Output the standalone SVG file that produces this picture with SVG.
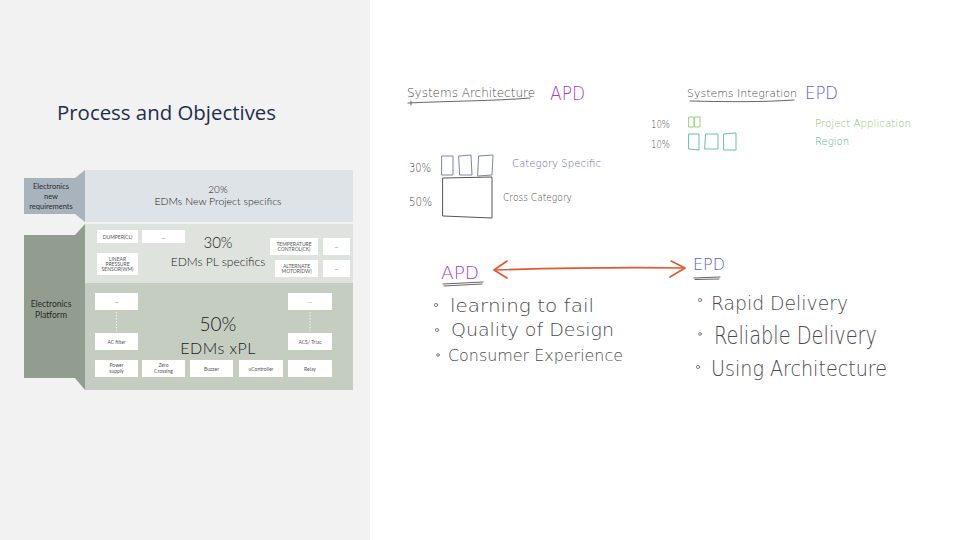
<svg xmlns="http://www.w3.org/2000/svg" width="960" height="540" viewBox="0 0 960 540">
  <style>
    .title { font-family: "Open Sans", "Liberation Sans", sans-serif; font-size: 20px; fill: #1f2d4d; }
    .gl { font-family: Lato, "Liberation Sans", sans-serif; font-weight: 300; fill: #1a1a1a; text-anchor: middle; }
    .tab { font-family: Lato, "Liberation Sans", sans-serif; font-weight: 400; fill: #2b2b2b; text-anchor: middle; }
    .box { fill: #ffffff; }
    .bt { font-family: Lato, "Liberation Sans", sans-serif; font-size: 5px; fill: #555; text-anchor: middle; }
    .hand { font-family: "DejaVu Sans", "Liberation Sans", sans-serif; font-weight: 200; fill: #4a4a4a; }
    .hand.apdc { fill: #a13fc8; }
    .hand.epdc { fill: #5b5fd0; }
    .hand.catc { fill: #6268b0; }
    .hand.projc { fill: #8cc56a; }
    .hand.regc { fill: #4fb596; }
    .ink { fill: none; stroke-linecap: round; stroke-linejoin: round; }
  </style>

  <!-- panels -->
  <rect x="0" y="0" width="960" height="540" fill="#ffffff"/>
  <rect x="0" y="0" width="370" height="540" fill="#f2f2f2"/>

  <text class="title" x="57" y="120" textLength="219" lengthAdjust="spacingAndGlyphs">Process and Objectives</text>

  <!-- layered platform stack -->
  <g id="band-new-project">
    <rect x="85" y="170" width="268" height="52" fill="#dee3e8"/>
    <text class="gl" x="218" y="193" font-size="10">20%</text>
    <text class="gl" x="218" y="205" font-size="10.5">EDMs New Project specifics</text>
  </g>
  <g id="tab-new-requirements">
    <polygon points="24,178 75,178 85,170 85,222 75,214 24,214" fill="#a8b3be"/>
    <text class="tab" x="51" y="189" font-size="7.5">Electronics</text>
    <text class="tab" x="51" y="199" font-size="7.5">new</text>
    <text class="tab" x="51" y="209" font-size="7.5">requirements</text>
  </g>
  <g id="tab-platform">
    <polygon points="24,235 75,235 85,224 85,390 75,378 24,378" fill="#919d8e"/>
    <text class="tab" x="51" y="307" font-size="8.5">Electronics</text>
    <text class="tab" x="51" y="318" font-size="8.5">Platform</text>
  </g>
  <g id="band-pl">
    <rect x="85" y="224" width="268" height="59" fill="#dfe3dd"/>
    <text class="gl" x="218" y="248" font-size="15">30%</text>
    <text class="gl" x="218" y="266" font-size="12">EDMs PL specifics</text>
  </g>
  <g id="band-xpl">
    <rect x="85" y="283" width="268" height="107" fill="#c5cdc1"/>
    <text class="gl" x="218" y="331" font-size="19">50%</text>
    <text class="gl" x="218" y="354" font-size="16" letter-spacing="0.5">EDMs xPL</text>
  </g>

  <!-- PL specific blocks -->
  <g id="box-dumper"><rect class="box" x="97" y="230" width="41" height="13"/><text class="bt" x="117.5" y="238.5">DUMPER(CL)</text></g>
  <g id="box-pl-more"><rect class="box" x="142" y="230" width="43" height="13"/><text class="bt" x="163.5" y="238.5">...</text></g>
  <g id="box-pressure"><rect class="box" x="97" y="253" width="41" height="22"/><text class="bt" x="117.5" y="261">LINEAR</text><text class="bt" x="117.5" y="266">PRESSURE</text><text class="bt" x="117.5" y="271">SENSOR(WM)</text></g>
  <g id="box-temperature"><rect class="box" x="270" y="238" width="48" height="17"/><text class="bt" x="294" y="245.5">TEMPERATURE</text><text class="bt" x="294" y="250.5">CONTROL(CK)</text></g>
  <g id="box-temp-more"><rect class="box" x="323" y="238" width="27" height="17"/><text class="bt" x="336.5" y="248">...</text></g>
  <g id="box-motor"><rect class="box" x="275" y="260" width="43" height="17"/><text class="bt" x="296.5" y="267.5">ALTERNATE</text><text class="bt" x="296.5" y="272.5">MOTOR(DW)</text></g>
  <g id="box-motor-more"><rect class="box" x="323" y="260" width="27" height="17"/><text class="bt" x="336.5" y="270">...</text></g>

  <!-- cross-platform blocks -->
  <g id="box-left-more"><rect class="box" x="95" y="293" width="43" height="17"/><text class="bt" x="116.5" y="303">...</text></g>
  <g id="box-ac-filter"><rect class="box" x="95" y="333" width="43" height="17"/><text class="bt" x="116.5" y="343.5">AC filter</text></g>
  <g id="box-power"><rect class="box" x="95" y="360" width="43" height="17"/><text class="bt" x="116.5" y="367">Power</text><text class="bt" x="116.5" y="373">supply</text></g>
  <g id="box-zero"><rect class="box" x="142" y="360" width="43" height="17"/><text class="bt" x="163.5" y="367">Zero</text><text class="bt" x="163.5" y="373">Crossing</text></g>
  <g id="box-buzzer"><rect class="box" x="190" y="360" width="43" height="17"/><text class="bt" x="211.5" y="370.5">Buzzer</text></g>
  <g id="box-ucontroller"><rect class="box" x="239" y="360" width="44" height="17"/><text class="bt" x="261" y="370.5">uController</text></g>
  <g id="box-relay"><rect class="box" x="288" y="360" width="44" height="17"/><text class="bt" x="310" y="370.5">Relay</text></g>
  <g id="box-right-more"><rect class="box" x="288" y="293" width="44" height="17"/><text class="bt" x="310" y="303">...</text></g>
  <g id="box-triac"><rect class="box" x="288" y="333" width="44" height="17"/><text class="bt" x="310" y="343.5">ACS/ Triac</text></g>

  <!-- connectors -->
  <g id="connectors">
    <line x1="116.5" y1="312" x2="116.5" y2="331" stroke="#ffffff" stroke-width="0.8" stroke-dasharray="1.5 1.5"/>
    <line x1="310" y1="312" x2="310" y2="331" stroke="#ffffff" stroke-width="0.8" stroke-dasharray="1.5 1.5"/>
    <!-- red two-way arrow between APD and EPD -->
    <g class="ink" stroke="#e4572e" stroke-width="1.6">
      <path d="M495,270 C560,268 620,267 684,268"/>
      <path d="M507,261 L494,270 L507,278"/>
      <path d="M671,261 L685,268 L670,277"/>
    </g>
  </g>

  <!-- Systems Architecture sketch -->
  <g id="sys-arch">
    <text class="hand" x="407" y="97" font-size="12" textLength="128" lengthAdjust="spacingAndGlyphs">Systems Architecture</text>
    <path class="ink" stroke="#555" stroke-width="0.9" d="M408,103 C450,101 495,101 530,98 M411,101 L411,105"/>
    <text class="hand apdc" x="550" y="100" font-size="20" textLength="35" lengthAdjust="spacingAndGlyphs">APD</text>
  </g>
  <g id="arch-30">
    <text class="hand" x="409" y="172" font-size="12" textLength="22" lengthAdjust="spacingAndGlyphs">30%</text>
    <g class="ink" stroke="#7d84a8" stroke-width="1">
      <path d="M442,156 L453,156 L453,175 L442,175 Z"/>
      <path d="M459,156 L471,155 L472,175 L460,175 Z"/>
      <path d="M479,156 L493,155 L492,175 L478,176 Z"/>
    </g>
    <text class="hand catc" x="512" y="167" font-size="11" textLength="89" lengthAdjust="spacingAndGlyphs">Category Specific</text>
  </g>
  <g id="arch-50">
    <text class="hand" x="409" y="206" font-size="12" textLength="23" lengthAdjust="spacingAndGlyphs">50%</text>
    <path class="ink" stroke="#555" stroke-width="1" d="M443,178 L492,177 L492,218 L443,216 Z"/>
    <text class="hand" x="503" y="201" font-size="11" textLength="69" lengthAdjust="spacingAndGlyphs">Cross Category</text>
  </g>

  <!-- Systems Integration sketch -->
  <g id="sys-int">
    <text class="hand" x="687" y="97" font-size="11" textLength="110" lengthAdjust="spacingAndGlyphs">Systems Integration</text>
    <path class="ink" stroke="#555" stroke-width="0.9" d="M690,101 C730,102 765,102 794,100"/>
    <text class="hand epdc" x="805" y="99" font-size="18" textLength="33" lengthAdjust="spacingAndGlyphs">EPD</text>
  </g>
  <g id="int-project">
    <text class="hand" x="651" y="128" font-size="10" textLength="19" lengthAdjust="spacingAndGlyphs">10%</text>
    <g class="ink" stroke="#9fcf7f" stroke-width="1">
      <path d="M689,117 L694,117 L694,127 L689,127 Z"/>
      <path d="M695,117 L700,117 L700,127 L695,127 Z"/>
    </g>
    <text class="hand projc" x="815" y="127" font-size="11" textLength="96" lengthAdjust="spacingAndGlyphs">Project Application</text>
  </g>
  <g id="int-region">
    <text class="hand" x="651" y="148" font-size="10" textLength="19" lengthAdjust="spacingAndGlyphs">10%</text>
    <g class="ink" stroke="#66c2a6" stroke-width="1">
      <path d="M689,134 L699,134 L699,150 L689,149 Z"/>
      <path d="M706,134 L718,134 L718,149 L705,149 Z"/>
      <path d="M724,134 L736,133 L736,150 L724,150 Z"/>
    </g>
    <text class="hand regc" x="815" y="145" font-size="11" textLength="34" lengthAdjust="spacingAndGlyphs">Region</text>
  </g>

  <!-- APD list -->
  <g id="apd">
    <text class="hand apdc" x="441" y="279" font-size="18" textLength="38" lengthAdjust="spacingAndGlyphs">APD</text>
    <path class="ink" stroke="#666" stroke-width="1" d="M443,284 L483,282 M444,286 L482,284"/>
    <g class="ink" stroke="#666" stroke-width="0.8">
      <circle cx="436" cy="305" r="1.6"/>
      <circle cx="437" cy="330" r="1.6"/>
      <circle cx="438" cy="355" r="1.3"/>
    </g>
    <text class="hand" x="450" y="312" font-size="18" textLength="144" lengthAdjust="spacingAndGlyphs">learning to fail</text>
    <text class="hand" x="451" y="336" font-size="18" textLength="163" lengthAdjust="spacingAndGlyphs">Quality of Design</text>
    <text class="hand" x="448" y="361" font-size="16" textLength="175" lengthAdjust="spacingAndGlyphs">Consumer Experience</text>
  </g>

  <!-- EPD list -->
  <g id="epd">
    <text class="hand epdc" x="693" y="270" font-size="16" textLength="32" lengthAdjust="spacingAndGlyphs">EPD</text>
    <path class="ink" stroke="#666" stroke-width="1" d="M694,278 L720,277 M695,279.5 L719,279"/>
    <g class="ink" stroke="#666" stroke-width="0.8">
      <circle cx="700" cy="300" r="1.6"/>
      <circle cx="700" cy="334" r="1.4"/>
      <circle cx="698" cy="367" r="1.6"/>
    </g>
    <text class="hand" x="711" y="310" font-size="19" textLength="137" lengthAdjust="spacingAndGlyphs">Rapid Delivery</text>
    <text class="hand" x="714" y="344" font-size="25" textLength="163" lengthAdjust="spacingAndGlyphs">Reliable Delivery</text>
    <text class="hand" x="711" y="376" font-size="21" textLength="176" lengthAdjust="spacingAndGlyphs">Using Architecture</text>
  </g>
</svg>
